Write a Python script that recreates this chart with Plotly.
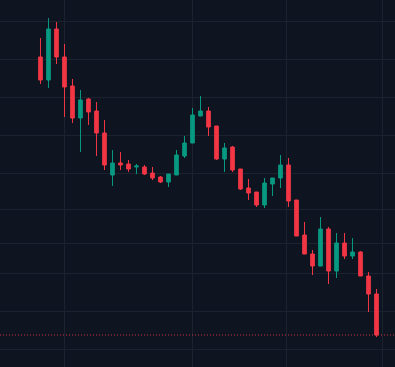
import plotly.graph_objects as go

# Candle data (index order, oldest -> newest)
day = list(range(43))
open_ = [34.3, 32.0, 37.1, 34.3, 31.4, 28.2, 30.1, 28.9, 26.7, 22.5,
         23.7, 23.6, 23.3, 23.3, 22.7, 22.3, 21.8, 22.5, 24.4, 25.7,
         28.4, 28.9, 27.4, 24.1, 25.3, 23.1, 21.2, 20.8, 19.5, 21.6,
         22.2, 23.5, 20.0, 16.5, 14.6, 13.4, 17.1, 12.9, 15.7, 14.4,
         14.8, 12.4, 10.6]
high = [36.2, 38.2, 37.8, 35.6, 32.1, 31.0, 30.2, 29.8, 28.0, 25.0,
        24.8, 24.0, 23.6, 23.5, 23.3, 22.4, 22.6, 25.0, 26.4, 29.2,
        30.4, 29.3, 27.4, 25.7, 25.4, 23.1, 22.1, 20.8, 22.2, 22.2,
        24.5, 24.2, 20.0, 17.8, 15.0, 18.3, 17.3, 16.7, 16.7, 16.2,
        14.9, 12.8, 11.1]
low = [31.6, 31.2, 33.6, 28.3, 27.7, 24.8, 27.5, 24.4, 23.0, 21.4,
       23.0, 22.8, 22.6, 22.5, 22.0, 21.7, 21.3, 22.5, 24.2, 25.7,
       28.4, 26.4, 24.0, 22.8, 22.8, 21.0, 20.0, 19.3, 19.2, 20.4,
       21.2, 19.3, 16.4, 14.6, 12.5, 13.4, 11.6, 12.2, 14.1, 14.1,
       12.4, 8.8, 6.3]
close = [32.0, 37.1, 34.3, 31.3, 28.2, 30.0, 28.8, 26.7, 23.5, 23.7,
         23.5, 23.1, 23.4, 22.6, 22.2, 21.8, 22.6, 24.5, 25.7, 28.5,
         28.9, 27.3, 24.1, 25.2, 23.0, 21.1, 20.7, 19.5, 21.7, 22.2,
         23.5, 19.9, 16.4, 14.6, 13.4, 17.1, 12.9, 15.7, 14.4, 14.8,
         12.4, 10.6, 6.5]

# Grid positions
price_grid = [37.9, 34.1, 30.3, 26.5, 22.7, 19.1, 15.7, 12.7, 8.9, 5.1]
time_grid = [2.94, 18.94, 30.81, 42.69]

UP = "#089981"
DOWN = "#f23645"
BG = "#0e1420"
GRID = "#1c2230"

fig = go.Figure(go.Candlestick(
    x=day, open=open_, high=high, low=low, close=close,
    increasing=dict(line=dict(color=UP, width=1), fillcolor=UP),
    decreasing=dict(line=dict(color=DOWN, width=1), fillcolor=DOWN),
    whiskerwidth=0,
    showlegend=False,
))

fig.add_shape(type="line", xref="paper", x0=0, x1=1, yref="y",
              y0=close[-1], y1=close[-1],
              line=dict(color="rgba(242,54,69,0.85)", width=1, dash="1px,2px"))

fig.update_layout(
    width=395, height=367,
    margin=dict(l=0, r=0, t=0, b=0),
    paper_bgcolor=BG, plot_bgcolor=BG,
    boxgap=0.35,
    xaxis=dict(range=[-5.06, 44.31], tickvals=time_grid, showticklabels=False,
               showgrid=True, gridcolor=GRID, gridwidth=1, zeroline=False,
               showline=False, rangeslider=dict(visible=False), fixedrange=True),
    yaxis=dict(range=[3.3, 40.0], tickvals=price_grid, showticklabels=False,
               showgrid=True, gridcolor=GRID, gridwidth=1, zeroline=False,
               showline=False, fixedrange=True),
)

fig.write_html(
    "out.html",
    config={"displayModeBar": False},
    post_script="document.body.style.margin='0';document.body.style.background='%s';" % BG,
)
